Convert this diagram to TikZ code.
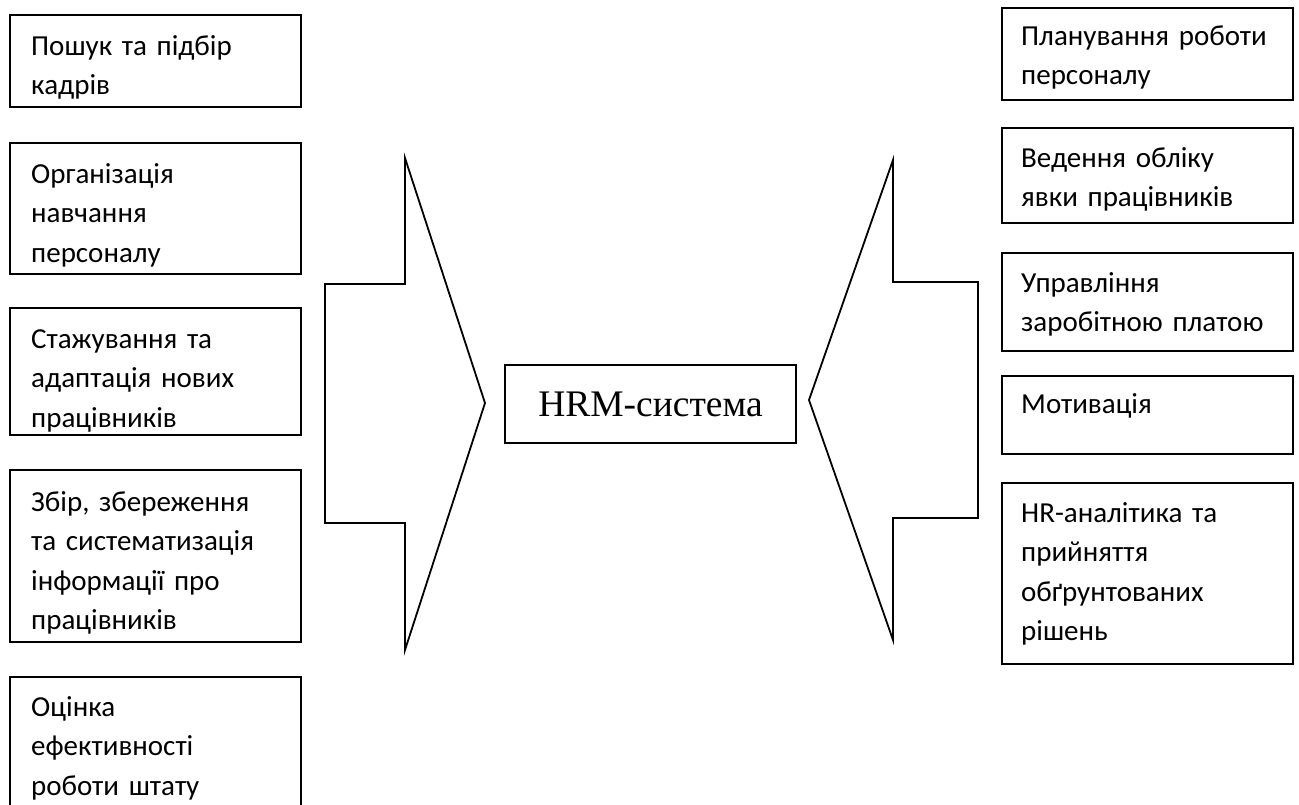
\documentclass[tikz,border=0pt]{standalone}
\usepackage{fontspec}
\setmainfont{Carlito}
\newfontfamily\hrmfont{Liberation Serif}
\usetikzlibrary{positioning}

\tikzset{
  taskbox/.style={draw, line width=2pt, anchor=north west, minimum width=291pt, inner sep=0pt},
  tasktext/.style={anchor=base west, text width=280pt, align=left, inner sep=0pt,
                   font=\fontsize{29}{39.5}\selectfont},
  blockarrow/.style={draw, line width=1.8pt, line join=miter},
}

\begin{document}
\begin{tikzpicture}[x=1pt, y=-1pt]
            \clip (0,0) rectangle (1299,804);
            % left column
            \node[taskbox, minimum height=92pt]  (search)  at (9,14)  {};
            \node[taskbox, minimum height=131pt] (train)   at (9,142) {};
            \node[taskbox, minimum height=127pt] (adapt)   at (9,307) {};
            \node[taskbox, minimum height=172pt] (info)    at (9,469) {};
            \node[taskbox, minimum height=160pt] (rating)  at (9,676) {};
            \node[tasktext] at ([shift={(22pt,-41pt)}]search.north west) {Пошук та підбір\\кадрів};
            \begin{scope}
              \clip (train.north west) rectangle ([yshift=6pt]train.south east);
              \node[tasktext] at ([shift={(22pt,-41pt)}]train.north west)  {Організація\\навчання\\персоналу};
            \end{scope}
            \begin{scope}
              \clip (adapt.north west) rectangle ([yshift=5pt]adapt.south east);
              \node[tasktext] at ([shift={(22pt,-41pt)}]adapt.north west)  {Стажування та\\адаптація нових\\працівників};
            \end{scope}
            \node[tasktext] at ([shift={(22pt,-42pt)}]info.north west)   {Збір, збереження\\та систематизація\\інформації про\\працівників};
            \node[tasktext] at ([shift={(22pt,-40pt)}]rating.north west) {Оцінка\\ефективності\\роботи штату};
            % right column
            \node[taskbox, minimum height=92pt]  (plan)    at (1001,7)   {};
            \node[taskbox, minimum height=95pt]  (attend)  at (1001,127) {};
            \node[taskbox, minimum height=98pt]  (salary)  at (1001,252) {};
            \node[taskbox, minimum height=78pt]  (motive)  at (1001,375) {};
            \node[taskbox, minimum height=181pt] (analyt)  at (1001,482) {};
            \node[tasktext] at ([shift={(20pt,-38pt)}]plan.north west)   {Планування роботи\\персоналу};
            \node[tasktext] at ([shift={(20pt,-40pt)}]attend.north west) {Ведення обліку\\явки працівників};
            \node[tasktext] at ([shift={(20pt,-40pt)}]salary.north west) {Управління\\заробітною платою};
            \node[tasktext] at ([shift={(20pt,-38pt)}]motive.north west) {Мотивація};
            \node[tasktext] at ([shift={(20pt,-40pt)}]analyt.north west) {HR-аналітика та\\прийняття\\обґрунтованих\\рішень};
            % centre
            \node[draw, line width=1.8pt, minimum width=291pt, minimum height=78pt, inner sep=0pt,
                  font=\hrmfont\fontsize{37.5}{45}\selectfont] (hrm) at (650.5,404) {HRM-система};
            \draw[blockarrow] (405,158) -- (405,284) -- (325,284) -- (325,523) -- (405,523) -- (405,650) -- (485,403) -- cycle;
            \draw[blockarrow] (893,160) -- (893,282) -- (978,282) -- (978,518) -- (893,518) -- (893,640) -- (809,400) -- cycle;
\end{tikzpicture}
\end{document}
